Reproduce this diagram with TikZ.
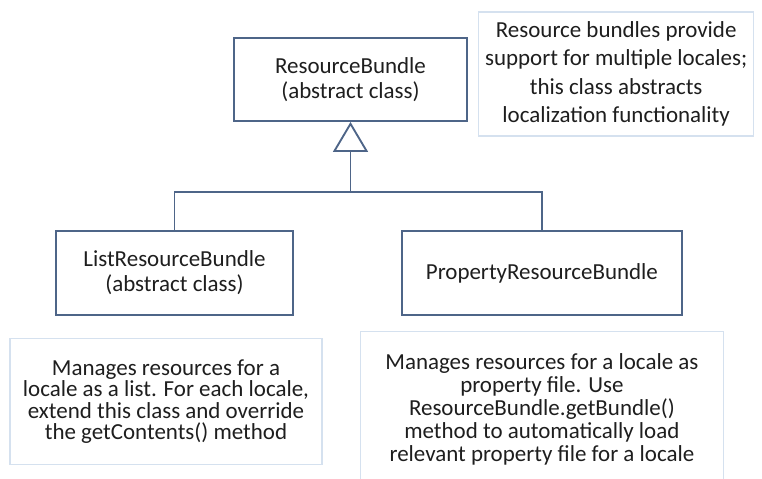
\documentclass[tikz,border=0pt]{standalone}
\usepackage{fontspec}
\setmainfont{Carlito}
\usetikzlibrary{positioning, arrows.meta}
\definecolor{boxline}{HTML}{4E6588}
\definecolor{noteline}{HTML}{D5E1EF}
\definecolor{inktext}{HTML}{1E1E1E}

\begin{document}
\begin{tikzpicture}[
    x=0.03cm,
    y=-0.03cm,
    font=\fontsize{19.6}{21.3}\selectfont,
    text=inktext,
    classbox/.style={
        rectangle,
        draw=boxline,
        line width=1.6pt,
        align=center,
        minimum height=2.52cm
    },
    notebox/.style={
        rectangle,
        draw=noteline,
        line width=1.2pt,
        align=center
    },
    link/.style={draw=boxline, line width=1.6pt},
    inherit/.style={link, -{Triangle[open, length=0.9cm, width=1.05cm]}}
]
\clip (0,0) rectangle (762,478);

% Base class
\node[classbox, minimum width=6.99cm, minimum height=2.49cm] (bundle) at (350.5,79.5)
    {ResourceBundle\\(abstract class)};
\node[notebox, minimum width=8.25cm, minimum height=3.72cm,
    font=\fontsize{19.6}{24.2}\selectfont,
    right=0.3cm of bundle, yshift=0.165cm] (bundlenote)
    {Resource bundles provide\\support for multiple locales;\\this class abstracts\\localization functionality};

% Subclasses
\node[classbox, minimum width=7.11cm] (listbundle) at (174.5,273)
    {ListResourceBundle\\(abstract class)};
\node[classbox, minimum width=8.4cm, right=3.21cm of listbundle] (propbundle)
    {PropertyResourceBundle};

% Notes under the subclasses
\node[notebox, minimum width=9.36cm, minimum height=3.78cm,
    font=\fontsize{19.6}{18.2}\selectfont,
    below=0.66cm of listbundle, xshift=-0.255cm] (listnote)
    {Manages resources for a\\locale as a list. For each locale,\\extend this class and override\\the getContents() method};
\node[notebox, minimum width=10.89cm, minimum height=4.65cm,
    font=\fontsize{19.6}{19.6}\selectfont,
    below=0.45cm of propbundle] (propnote)
    {Manages resources for a locale as\\property file. Use\\ResourceBundle.getBundle()\\method to automatically load\\relevant property file for a locale};

% Generalization
\coordinate (fork) at (bundle.south |- 0,192);
\draw[link] (listbundle.north) |- (fork) -| (propbundle.north);
\draw[inherit] (fork) -- (bundle.south);

\end{tikzpicture}
\end{document}
